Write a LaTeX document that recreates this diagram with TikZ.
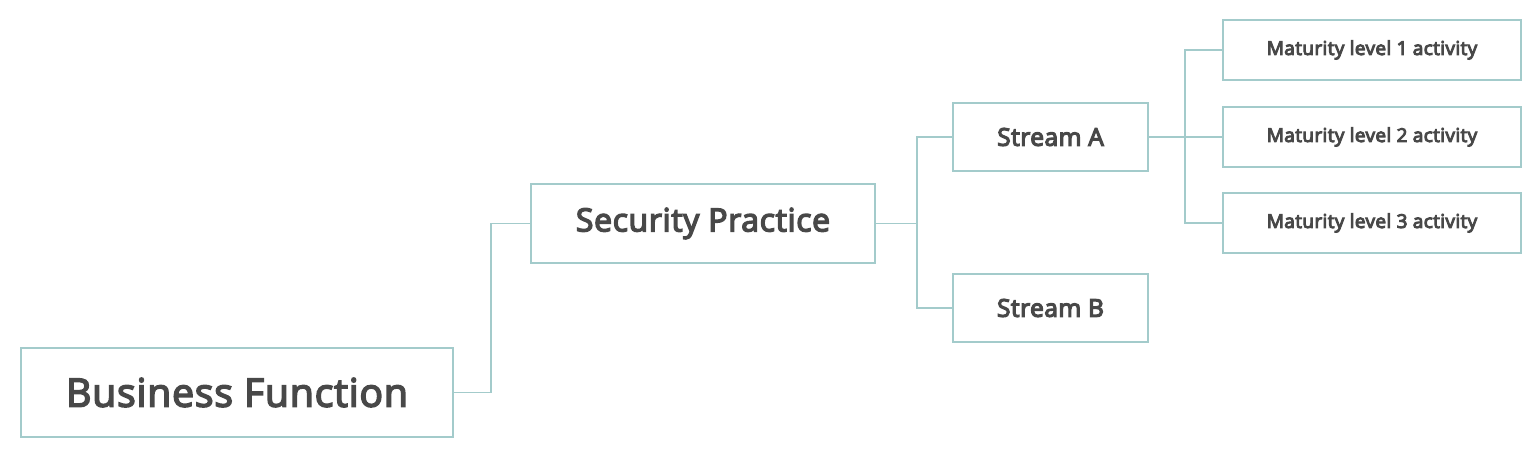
\documentclass[tikz,border=0pt]{standalone}
\usepackage{fontspec}
\setmainfont{Open Sans}[LetterSpace=2]
\usepackage{tikz}
\usetikzlibrary{positioning}
\definecolor{linecol}{HTML}{A3CBCB}
\definecolor{textcol}{HTML}{484848}
% semibold look: fill and stroke the glyphs (#1 = stroke width)
\newcommand\semibf[2]{\special{pdf:literal direct 2 Tr #1 w}#2\special{pdf:literal direct 0 Tr}}
\tikzset{
  box/.style={draw=linecol, line width=1.6pt, rectangle, text=textcol, inner sep=0pt},
  link/.style={draw=linecol, line width=1.6pt}
}

\begin{document}
\begin{tikzpicture}[x=1pt, y=-1pt]

  \useasboundingbox (0,0) rectangle (1536,454);

  % the three levels of the model
  \node[box, minimum width=432pt, minimum height=89pt, font=\fontsize{39.2}{41}\selectfont] (bf) at (237, 392.5) {\semibf{1.6}{Business Function}};
  \node[box, minimum width=344pt, minimum height=79pt, font=\fontsize{32}{34}\selectfont] (sp) at (703, 223.5) {\semibf{1.4}{Security Practice}};
  \node[box, minimum width=195pt, minimum height=68pt, font=\fontsize{24.5}{27}\selectfont] (sa) at (1050.5, 137) {\semibf{1.2}{Stream A}};
  \node[box, minimum width=195pt, minimum height=68pt, font=\fontsize{24.5}{27}\selectfont] (sb) at (1050.5, 308) {\semibf{1.2}{Stream B}};

  % activities
  \node[box, minimum width=298pt, minimum height=60pt, font=\fontsize{19}{21}\selectfont] (m1) at (1372, 50) {\semibf{1.0}{Maturity level 1 activity}};
  \node[box, minimum width=298pt, minimum height=60pt, font=\fontsize{19}{21}\selectfont] (m2) at (1372, 137) {\semibf{1.0}{Maturity level 2 activity}};
  \node[box, minimum width=298pt, minimum height=60pt, font=\fontsize{19}{21}\selectfont] (m3) at (1372, 223) {\semibf{1.0}{Maturity level 3 activity}};

  \draw[link] (bf.east) -- ++(37,0) |- (sp.west);
  \draw[link] (sp.east) -- ++(41,0) coordinate (spj);
  \draw[link] (spj) |- (sa.west);
  \draw[link] (spj) |- (sb.west);
  \draw[link] (sa.east) -- (m2.west);
  \draw[link] (m1.west) -- ++(-37,0) |- (m3.west);

\end{tikzpicture}
\end{document}
